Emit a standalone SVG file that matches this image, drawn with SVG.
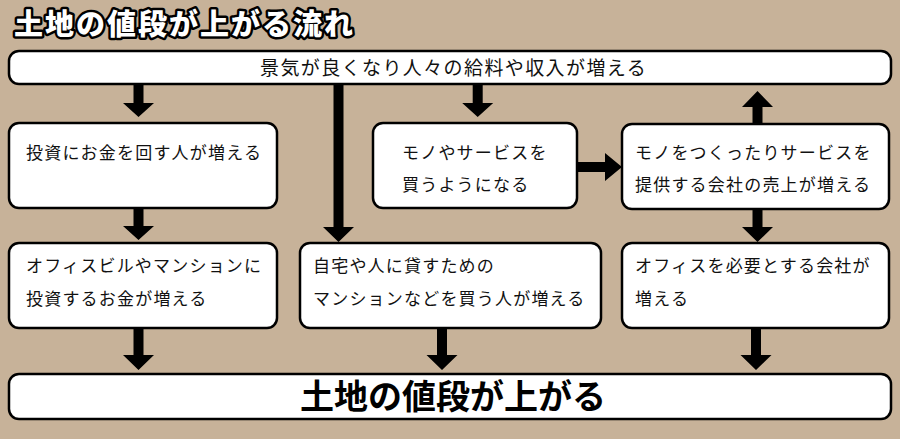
<svg xmlns="http://www.w3.org/2000/svg" width="900" height="439" viewBox="0 0 900 439">
<style>
.box{fill:#fff;stroke:#000;stroke-width:2.5}
.t{font-family:"Noto Sans CJK JP","Noto Sans",sans-serif;font-size:17px;letter-spacing:1.2px;fill:#111}
.top{font-family:"Noto Sans CJK JP","Noto Sans",sans-serif;font-size:19px;letter-spacing:1.4px;fill:#111}
.big{font-family:"Noto Sans CJK JP","Noto Sans",sans-serif;font-size:34px;font-weight:700;fill:#000}
.title{font-family:"Noto Sans CJK JP","Noto Sans",sans-serif;font-size:29px;font-weight:900;letter-spacing:2px;fill:#fff;stroke:#000;stroke-width:5;stroke-linejoin:round;paint-order:stroke fill}
.arr{fill:#000}
</style>
<rect width="900" height="439" fill="#c7b299"/>
<text class="title" x="14" y="35">土地の値段が上がる流れ</text>

<g id="connectors">
<path class="arr" d="M133.5,84 H143.5 V103 H154 L138.5,117 L123,103 H133.5 Z"/>
<path class="arr" d="M333.5,84 H343.5 V227 H354 L338.5,242 L323,227 H333.5 Z"/>
<path class="arr" d="M472.7,84 H482.7 V103 H493.2 L477.7,117 L462.2,103 H472.7 Z"/>
<path class="arr" d="M752.5,124 H762.5 V107 H773 L757.5,91 L742,107 H752.5 Z"/>
<path class="arr" d="M577,162 V172 H605 V181 L622,167 L605,153 V162 Z"/>
<path class="arr" d="M133.5,208 H143.5 V226 H154 L138.5,240 L123,226 H133.5 Z"/>
<path class="arr" d="M752.5,209 H762.5 V227 H773 L757.5,242 L742,227 H752.5 Z"/>
<path class="arr" d="M133.5,328 H143.5 V355 H154 L138.5,370 L123,355 H133.5 Z"/>
<path class="arr" d="M437,328 H447 V355 H457.5 L442,370 L426.5,355 H437 Z"/>
<path class="arr" d="M751,328 H761 V355 H771.5 L756,370 L740.5,355 H751 Z"/>
</g>

<g id="top-bar">
<rect class="box" x="9" y="51" width="882" height="33" rx="10"/>
<text class="top" x="260" y="75">景気が良くなり人々の給料や収入が増える</text>
</g>

<g id="node-invest">
<rect class="box" x="9" y="123" width="268" height="85" rx="10"/>
<text class="t" x="26" y="159">投資にお金を回す人が増える</text>
</g>

<g id="node-buy">
<rect class="box" x="373" y="123" width="204" height="85" rx="10"/>
<text class="t" x="402" y="159">モノやサービスを</text>
<text class="t" x="402" y="191">買うようになる</text>
</g>

<g id="node-sales">
<rect class="box" x="622" y="124" width="267" height="85" rx="10"/>
<text class="t" x="635" y="159">モノをつくったりサービスを</text>
<text class="t" x="635" y="191">提供する会社の売上が増える</text>
</g>

<g id="node-building">
<rect class="box" x="9" y="243" width="268" height="85" rx="10"/>
<text class="t" x="26" y="272">オフィスビルやマンションに</text>
<text class="t" x="26" y="305">投資するお金が増える</text>
</g>

<g id="node-home">
<rect class="box" x="300" y="243" width="301" height="85" rx="10"/>
<text class="t" x="313" y="272">自宅や人に貸すための</text>
<text class="t" x="313" y="305">マンションなどを買う人が増える</text>
</g>

<g id="node-office">
<rect class="box" x="622" y="243" width="267" height="85" rx="10"/>
<text class="t" x="635" y="272">オフィスを必要とする会社が</text>
<text class="t" x="635" y="305">増える</text>
</g>

<g id="bottom-bar">
<rect class="box" x="9" y="374" width="882" height="45" rx="10"/>
<text class="big" x="300" y="409">土地の値段が上がる</text>
</g>
</svg>
